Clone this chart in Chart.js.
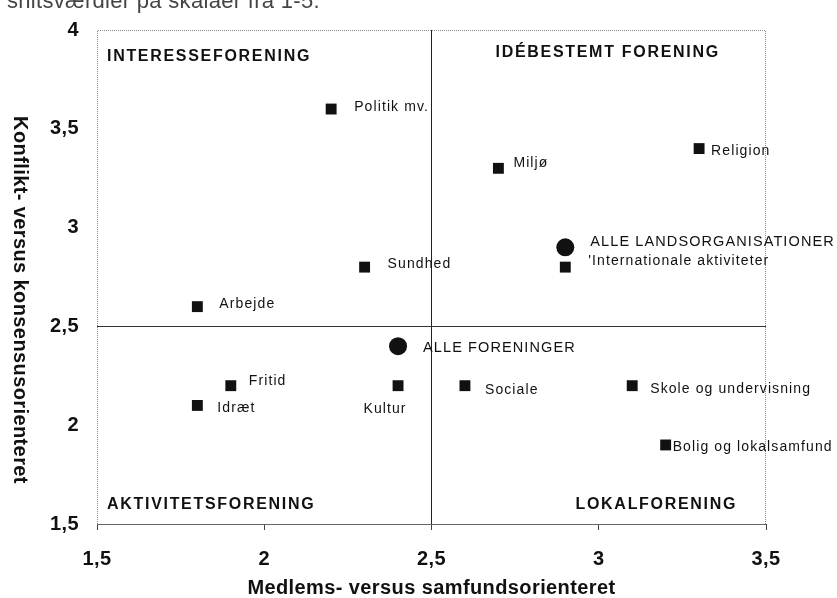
<!DOCTYPE html>
<html><head><meta charset="utf-8">
<script src="https://cdn.jsdelivr.net/npm/chart.js@4.4.0/dist/chart.umd.min.js"></script>
<style>
html,body{margin:0;padding:0;background:#fff;overflow:hidden;}
#wrap{position:relative;width:837px;height:598px;overflow:hidden;}
canvas{position:absolute;left:0;top:0;}
#note{position:absolute;left:7px;top:-10px;font-family:"Liberation Sans",Arial,sans-serif;font-size:22px;line-height:22px;color:#444;letter-spacing:0.3px;white-space:nowrap;}
</style></head><body>
<div id="wrap"><canvas id="c" width="837" height="598"></canvas><div id="note">snitsværdier på skalaer fra 1-5.</div></div>
<script>
// ---- data ----
const orgNames = ['Politik mv.', 'Miljø', 'Religion', "'Internationale aktiviteter", 'Sundhed', 'Arbejde', 'Fritid', 'Idræt', 'Kultur', 'Sociale', 'Skole og undervisning', 'Bolig og lokalsamfund'];
const orgX = [2.2, 2.7, 3.3, 2.9, 2.3, 1.8, 1.9, 1.8, 2.4, 2.6, 3.1, 3.2];
const orgY = [3.6, 3.3, 3.4, 2.8, 2.8, 2.6, 2.2, 2.1, 2.2, 2.2, 2.2, 1.9];
const totalNames = ['ALLE LANDSORGANISATIONER', 'ALLE FORENINGER'];
const totalX = [2.9, 2.4];
const totalY = [2.9, 2.4];
const quadrantNames = ['INTERESSEFORENING', 'IDÉBESTEMT FORENING', 'AKTIVITETSFORENING', 'LOKALFORENING'];
const xTickLabels = ['1,5', '2', '2,5', '3', '3,5'];
const yTickLabels = ['1,5', '2', '2,5', '3', '3,5', '4'];
const midX = 2.5;
const midY = 2.5;
const xTitle = 'Medlems- versus samfundsorienteret';
const yTitle = 'Konflikt- versus konsensusorienteret';

// ---- styles ----
const FONT = '"Liberation Sans", Arial, Helvetica, sans-serif';
// label placement: [dx, dy, align]
const orgLabelPos = [[23,-2,'left'],[15,-5,'left'],[12,3,'left'],[23,-6,'left'],[23,-3,'left'],[22,-2,'left'],[18,-5,'left'],[20,3,'left'],[-13,23,'center'],[20,4,'left'],[18,3,'left'],[7,2,'left']];
const totalLabelPos = [[25,-5,'left'],[25,2,'left']];

const spacingPlugin = {
  id: 'spacing',
  beforeDraw(chart) { chart.ctx.letterSpacing = '0.4px'; },
  afterDraw(chart) { chart.ctx.letterSpacing = '0px'; }
};

const framePlugin = {
  id: 'frame',
  beforeDatasetsDraw(chart) {
    const {ctx, chartArea: {left, top, right, bottom}} = chart;
    ctx.save();
    ctx.lineWidth = 1;
    ctx.strokeStyle = '#8a8a8a';
    ctx.setLineDash([1, 1]);
    ctx.beginPath();
    ctx.moveTo(left + 0.5, bottom);
    ctx.lineTo(left + 0.5, top + 0.5);
    ctx.lineTo(right - 0.5, top + 0.5);
    ctx.lineTo(right - 0.5, bottom);
    ctx.stroke();
    ctx.setLineDash([]);
    ctx.strokeStyle = '#666';
    ctx.beginPath();
    ctx.moveTo(left, bottom + 0.5);
    ctx.lineTo(right, bottom + 0.5);
    ctx.stroke();
    ctx.restore();
  }
};

const textPlugin = {
  id: 'texts',
  afterDatasetsDraw(chart) {
    const {ctx, chartArea: {left, top, right, bottom}, scales: {x, y}} = chart;
    ctx.save();
    ctx.fillStyle = '#111';
    ctx.textBaseline = 'middle';
    // point labels
    ctx.font = '14px ' + FONT;
    ctx.letterSpacing = '1.1px';
    const drawSet = (dsIndex, names, pos) => {
      const meta = chart.getDatasetMeta(dsIndex);
      meta.data.forEach((el, i) => {
        const p = pos[i];
        ctx.textAlign = p[2];
        ctx.fillText(names[i], el.x + p[0], el.y + p[1]);
      });
    };
    drawSet(0, orgNames, orgLabelPos);
    ctx.font = '14.5px ' + FONT;
    drawSet(1, totalNames, totalLabelPos);
    // quadrant labels
    ctx.font = 'bold 16px ' + FONT;
    ctx.letterSpacing = '1.7px';
    ctx.textAlign = 'left';
    const xm = x.getPixelForValue(midX);
    ctx.fillText(quadrantNames[0], left + 10, top + 27);
    ctx.fillText(quadrantNames[1], xm + 64, top + 23);
    ctx.fillText(quadrantNames[2], left + 10, bottom - 19);
    ctx.fillText(quadrantNames[3], xm + 144, bottom - 19);
    ctx.restore();
  },
  afterDraw(chart) {
    const {ctx, chartArea: {top, bottom}} = chart;
    ctx.save();
    ctx.fillStyle = '#111';
    ctx.font = 'bold 20px ' + FONT;
    ctx.letterSpacing = '0.4px';
    ctx.textAlign = 'center';
    ctx.textBaseline = 'middle';
    ctx.translate(20, (top + bottom) / 2 + 23);
    ctx.rotate(Math.PI / 2);
    ctx.fillText(yTitle, 0, 0);
    ctx.restore();
  }
};

new Chart(document.getElementById('c'), {
  type: 'scatter',
  data: {
    datasets: [
      {
        label: 'Foreningstyper',
        data: orgX.map((v, i) => ({x: v, y: orgY[i]})),
        pointStyle: 'rect',
        pointRadius: 7.7,
        pointHoverRadius: 7.7,
        backgroundColor: '#111',
        borderColor: '#111',
        borderWidth: 0
      },
      {
        label: 'I alt',
        data: totalX.map((v, i) => ({x: v, y: totalY[i]})),
        pointStyle: 'circle',
        pointRadius: 9,
        pointHoverRadius: 9,
        backgroundColor: '#111',
        borderColor: '#111',
        borderWidth: 0
      }
    ]
  },
  options: {
    responsive: false,
    animation: false,
    devicePixelRatio: 1,
    layout: {padding: {left: 0, top: 20, right: 71, bottom: 0}},
    plugins: {legend: {display: false}, tooltip: {enabled: false}},
    events: [],
    scales: {
      x: {
        type: 'linear',
        min: 1.5, max: 3.5,
        afterFit(s) { s.height = 74; },
        ticks: {
          stepSize: 0.5, autoSkip: false, maxRotation: 0,
          padding: 17, color: '#111',
          font: {family: FONT, size: 20, weight: 'bold'},
          callback: (v, i) => xTickLabels[i]
        },
        grid: {
          color: c => (c.tick && c.tick.value === midX) ? '#222' : 'rgba(0,0,0,0)',
          lineWidth: 1,
          drawTicks: true, tickLength: 6, tickColor: '#444'
        },
        border: {display: false},
        title: {
          display: true, text: xTitle, color: '#111',
          font: {family: FONT, size: 20, weight: 'bold', lineHeight: 1},
          padding: {top: 0, bottom: 0}
        }
      },
      y: {
        type: 'linear',
        min: 1.5, max: 4,
        afterFit(s) { s.width = 97; },
        ticks: {
          stepSize: 0.5, autoSkip: false,
          padding: 18, color: '#111',
          font: {family: FONT, size: 20, weight: 'bold'},
          callback: (v, i) => yTickLabels[i]
        },
        grid: {
          color: c => (c.tick && c.tick.value === midY) ? '#333' : 'rgba(0,0,0,0)',
          lineWidth: 1,
          drawTicks: false
        },
        border: {display: false},
        title: {display: false}
      }
    }
  },
  plugins: [spacingPlugin, framePlugin, textPlugin]
});
</script>
</body></html>
